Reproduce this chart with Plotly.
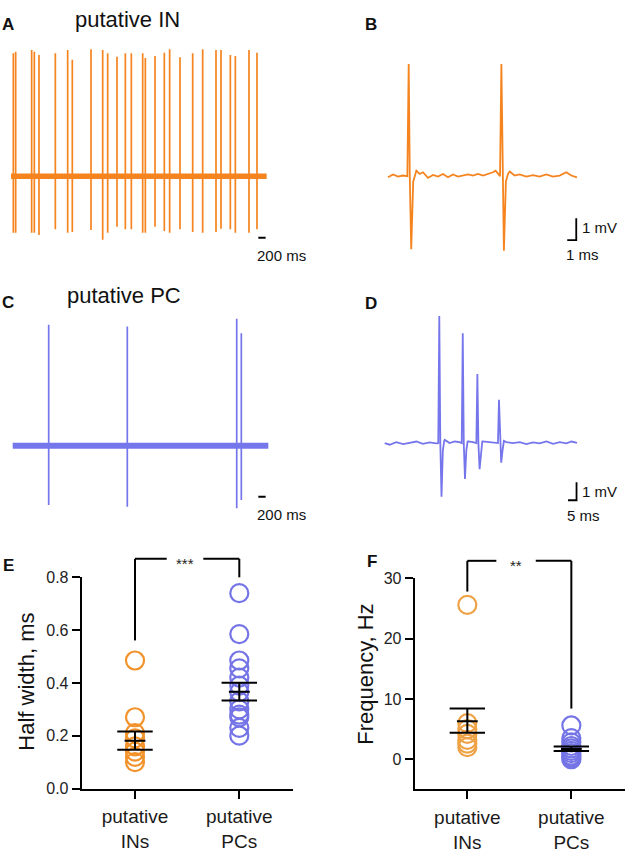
import plotly.graph_objects as go

W, H = 626, 853
FONT = "Arial, Liberation Sans, sans-serif"

# ---------------- data ----------------
# Panel A: putative IN, extracellular spike train (time ms, amplitude mV)
a_duration = 7005
a_spike_t = [64, 128, 566, 639, 767, 1215, 1553, 1680, 2192, 2512, 2649, 2904, 3133, 3297,
             3608, 3681, 3946, 4201, 4347, 4631, 4978, 5252, 5617, 5754, 6010, 6147, 6521, 6740]
a_spike_peak = [5.03, 5.09, 5.16, 5.09, 4.96, 5.03, 5.16, 4.76, 5.19, 5.16, 5.03, 4.89, 5.03, 5.03,
                5.03, 4.83, 4.92, 5.05, 5.19, 4.87, 5.03, 5.19, 5.16, 5.16, 4.96, 4.92, 5.16, 5.05]
a_spike_trough = [-2.31, -2.31, -2.31, -2.31, -2.41, -2.17, -2.31, -2.28, -2.20, -2.60, -2.31, -2.07,
                  -2.17, -2.17, -2.31, -2.31, -2.07, -2.24, -2.31, -2.17, -2.28, -2.31, -2.28, -2.15,
                  -2.17, -2.31, -2.31, -2.17]
a_scalebar_ms = 200

# Panel B: two IN spikes, expanded (time ms, mV)
b_base_t = [0.0, 0.56, 1.11, 1.67, 2.78, 3.15, 3.52, 3.89, 4.44, 5.0, 5.56, 6.11, 6.67, 7.22, 7.78,
            8.33, 8.89, 9.44, 10.0, 10.56, 11.11, 11.67, 11.96, 13.15, 13.52, 14.07, 14.63, 15.37,
            16.11, 16.85, 17.59, 18.33, 19.07, 19.81, 20.37, 21.0]
b_base_v = [-0.05, 0.08, -0.02, 0.03, 0.08, 0.25, 0.10, 0.18, -0.08, 0.06, -0.02, 0.10, -0.05, 0.08,
            -0.02, 0.03, 0.08, 0.03, 0.10, 0.03, 0.10, 0.18, 0.25, 0.10, 0.21, 0.03, 0.08, -0.02,
            0.05, -0.02, 0.08, -0.02, 0.03, 0.18, 0.03, -0.05]
b_spike_t = [2.3, 12.6]
b_spike_peak = [5.14, 5.14]
b_spike_trough = [-3.35, -3.42]
b_wave_dt = [-0.15, 0.0, 0.12, 0.28, 0.5, 0.75]
b_wave_tail = [-0.25, 0.12]
b_scale_ms, b_scale_mv = 1, 1

# Panel C: putative PC spike train
c_duration = 7004
c_spike_t = [986, 3140, 6138, 6264]
c_spike_peak = [4.95, 4.88, 5.20, 4.60]
c_spike_trough = [-2.42, -2.49, -2.56, -2.22]
c_scalebar_ms = 200

# Panel D: PC burst, expanded
d_base_t = [0.0, 2.9, 6.8, 10.8, 14.7, 18.6, 22.5, 26.4, 30.3, 35.3, 38.2, 41.2, 44.1, 49.0, 51.9,
            57.8, 60.8, 63.7, 71.5, 75.4, 79.4, 83.3, 87.2, 91.1, 95.1, 99.0, 102.9, 106.9, 109.8, 113.1]
d_base_v = [0.0, -0.09, 0.055, -0.055, 0.018, 0.09, -0.036, 0.036, -0.018, 0.18, 0.0, 0.09, 0.055,
            0.09, 0.055, 0.09, 0.055, 0.0, 0.055, 0.0, 0.055, -0.055, 0.036, -0.018, 0.09, -0.036,
            0.055, -0.018, 0.09, 0.018]
d_spike_t = [32.1, 45.9, 54.5, 67.2]
d_spike_peak = [7.10, 6.14, 3.86, 2.42]
d_spike_trough = [-3.00, -2.00, -1.46, -1.09]
d_wave_dt = [-0.6, 0.0, 0.6, 1.3, 2.1, 2.9]
d_wave_tail = [-0.4, 0.12]
d_scale_ms, d_scale_mv = 5, 1

# Panel E: half width (ms)
categories = ["putative<br>INs", "putative<br>PCs"]
e_in = [0.485, 0.27, 0.21, 0.19, 0.16, 0.14, 0.12, 0.10]
e_pc = [0.74, 0.585, 0.485, 0.455, 0.42, 0.39, 0.365, 0.33, 0.30, 0.28, 0.27, 0.23, 0.20]
e_mean = [0.181, 0.367]
e_sem_lo = [0.147, 0.333]
e_sem_hi = [0.216, 0.401]
e_ticks = [0.0, 0.2, 0.4, 0.6, 0.8]
e_sig = "***"

# Panel F: frequency (Hz)
f_in = [25.6, 6.0, 5.0, 4.2, 3.2, 2.6, 2.0]
f_pc = [5.6, 3.5, 2.8, 2.2, 1.8, 1.4, 1.0, 0.6, 0.3, 0.0]
f_mean = [6.3, 1.7]
f_sem_lo = [4.4, 1.35]
f_sem_hi = [8.4, 2.1]
f_ticks = [0, 10, 20, 30]
f_sig = "**"

# ---------------- styles ----------------
ORANGE = "#F5841F"
BLUE = "#7676EC"
E_ORANGE = "#F2922A"
F_ORANGE = "#EFA245"
E_BLUE = "#7474E6"


def dx(p0, p1):
    return [p0 / W, p1 / W]


def dy(top, bot):
    return [1 - bot / H, 1 - top / H]


fig = go.Figure()


def build_wave(base_t, base_v, spk_t, peaks, troughs, wdt, tail):
    pts = []
    for t, v in zip(base_t, base_v):
        if all(not (s + wdt[0] - 0.05 <= t <= s + wdt[-1] + 0.05) for s in spk_t):
            pts.append((t, v))
    for s, pk, tr in zip(spk_t, peaks, troughs):
        vals = [0.0, pk, 0.0, tr, tail[0], tail[1]]
        for d, v in zip(wdt, vals):
            pts.append((s + d, v))
    pts.sort()
    return [p[0] for p in pts], [p[1] for p in pts]


def spike_lines(spk_t, peaks, troughs):
    xs, ys = [], []
    for t, pk, tr in zip(spk_t, peaks, troughs):
        xs += [t, t, None]
        ys += [pk, tr, None]
    return xs, ys


# Panel A
fig.add_trace(go.Scatter(x=[0, a_duration], y=[0, 0], mode="lines",
                         line=dict(color=ORANGE, width=5.5), xaxis="x", yaxis="y"))
sx, sy = spike_lines(a_spike_t, a_spike_peak, a_spike_trough)
fig.add_trace(go.Scatter(x=sx, y=sy, mode="lines", line=dict(color=ORANGE, width=1.7),
                         xaxis="x", yaxis="y"))
a_bar_x0 = 6776
fig.add_trace(go.Scatter(x=[a_bar_x0, a_bar_x0 + a_scalebar_ms], y=[-2.52, -2.52], mode="lines",
                         line=dict(color="black", width=2), xaxis="x", yaxis="y"))

# Panel B
bx, by = build_wave(b_base_t, b_base_v, b_spike_t, b_spike_peak, b_spike_trough, b_wave_dt, b_wave_tail)
fig.add_trace(go.Scatter(x=bx, y=by, mode="lines", line=dict(color=ORANGE, width=1.8),
                         xaxis="x2", yaxis="y2"))
b_bar_x1, b_bar_y0 = 20.92, -2.93
fig.add_trace(go.Scatter(x=[b_bar_x1 - b_scale_ms, b_bar_x1, b_bar_x1],
                         y=[b_bar_y0, b_bar_y0, b_bar_y0 + b_scale_mv], mode="lines",
                         line=dict(color="black", width=1.8), xaxis="x2", yaxis="y2"))

# Panel C
fig.add_trace(go.Scatter(x=[0, c_duration], y=[0, 0], mode="lines",
                         line=dict(color=BLUE, width=6), xaxis="x3", yaxis="y3"))
sx, sy = spike_lines(c_spike_t, c_spike_peak, c_spike_trough)
fig.add_trace(go.Scatter(x=sx, y=sy, mode="lines", line=dict(color=BLUE, width=1.7),
                         xaxis="x3", yaxis="y3"))
c_bar_x0 = 6730
fig.add_trace(go.Scatter(x=[c_bar_x0, c_bar_x0 + c_scalebar_ms], y=[-2.09, -2.09], mode="lines",
                         line=dict(color="black", width=2), xaxis="x3", yaxis="y3"))

# Panel D
ddx, ddy = build_wave(d_base_t, d_base_v, d_spike_t, d_spike_peak, d_spike_trough, d_wave_dt, d_wave_tail)
fig.add_trace(go.Scatter(x=ddx, y=ddy, mode="lines", line=dict(color=BLUE, width=1.8),
                         xaxis="x4", yaxis="y4"))
d_bar_x1, d_bar_y0 = 112.8, -3.19
fig.add_trace(go.Scatter(x=[d_bar_x1 - d_scale_ms, d_bar_x1, d_bar_x1],
                         y=[d_bar_y0, d_bar_y0, d_bar_y0 + d_scale_mv], mode="lines",
                         line=dict(color="black", width=1.8), xaxis="x4", yaxis="y4"))


# Panels E & F scatter + mean/SEM
def group_traces(vals_in, vals_pc, mean, lo, hi, col_in, col_pc, xa, ya):
    for i, (vals, col) in enumerate([(vals_in, col_in), (vals_pc, col_pc)]):
        fig.add_trace(go.Scatter(x=[i] * len(vals), y=vals, mode="markers", cliponaxis=False,
                                 marker=dict(symbol="circle-open", size=18, color=col,
                                             line=dict(width=2.2, color=col)),
                                 xaxis=xa, yaxis=ya))
    xs, ys = [], []
    for i in range(2):
        xs += [i - 0.17, i + 0.17, None, i - 0.17, i + 0.17, None, i - 0.1, i + 0.1, None, i, i, None]
        ys += [lo[i], lo[i], None, hi[i], hi[i], None, mean[i], mean[i], None, lo[i], hi[i], None]
    fig.add_trace(go.Scatter(x=xs, y=ys, mode="lines", line=dict(color="black", width=2),
                             xaxis=xa, yaxis=ya, cliponaxis=False))


group_traces(e_in, e_pc, e_mean, e_sem_lo, e_sem_hi, E_ORANGE, E_BLUE, "x5", "y5")
group_traces(f_in, f_pc, f_mean, f_sem_lo, f_sem_hi, F_ORANGE, E_BLUE, "x6", "y6")

hidden = dict(visible=False, fixedrange=True)

E_XR, E_XD = [-0.511, 1.512], [81.7, 292.7]
E_YR, E_YD = [0, 0.8], [582.3, 798.3]
F_XR, F_XD = [-0.506, 1.513], [414.7, 624.7]
F_YR, F_YD = [-5, 30], [583.3, 799.2]

axis_common = dict(showline=True, linewidth=2, linecolor="black", ticks="outside", ticklen=8,
                   tickwidth=2, tickcolor="black", showgrid=False, zeroline=False,
                   tickfont=dict(family=FONT, size=16, color="#222"))
xtickfont = dict(family=FONT, size=19, color="#1a1a1a")

fig.update_layout(
    width=W, height=H, margin=dict(l=0, r=0, t=0, b=0),
    paper_bgcolor="white", plot_bgcolor="white", showlegend=False,
    font=dict(family=FONT, color="#1a1a1a"),
    xaxis=dict(domain=dx(0, 290), range=[-301.4, 7644.6], anchor="y", **hidden),
    yaxis=dict(domain=dy(30, 265), range=[-3.72, 5.68], anchor="x", **hidden),
    xaxis2=dict(domain=dx(380, 600), range=[-0.89, 23.56], anchor="y2", **hidden),
    yaxis2=dict(domain=dy(40, 265), range=[-4.17, 5.92], anchor="x2", **hidden),
    xaxis3=dict(domain=dx(0, 290), range=[-348, 7598], anchor="y3", **hidden),
    yaxis3=dict(domain=dy(300, 530), range=[-3.29, 5.91], anchor="x3", **hidden),
    xaxis4=dict(domain=dx(380, 600), range=[-2.76, 126.6], anchor="y4", **hidden),
    yaxis4=dict(domain=dy(300, 530), range=[-4.64, 7.92], anchor="x4", **hidden),
    xaxis5=dict(domain=dx(*E_XD), range=E_XR, anchor="y5", tickvals=[0, 1], ticktext=categories,
                ticklabelstandoff=2, **{**axis_common, "tickfont": xtickfont}),
    yaxis5=dict(domain=dy(*E_YD), range=E_YR, anchor="x5", tickvals=e_ticks,
                ticktext=[f"{v:.1f}" for v in e_ticks], **axis_common),
    xaxis6=dict(domain=dx(*F_XD), range=F_XR, anchor="y6", tickvals=[0, 1], ticktext=categories,
                ticklabelstandoff=2, **{**axis_common, "tickfont": xtickfont}),
    yaxis6=dict(domain=dy(*F_YD), range=F_YR, anchor="x6", tickvals=f_ticks,
                ticktext=[str(v) for v in f_ticks], **axis_common),
)


def to_px(v, r, d):
    return d[0] + (v - r[0]) / (r[1] - r[0]) * (d[1] - d[0])


def to_py(v, r, d):
    return d[1] - (v - r[0]) / (r[1] - r[0]) * (d[1] - d[0])


def bracket(xr, xd, yr, yd, y_top, y_left, y_right, gap0, gap1, text, fs):
    xl, xrr = to_px(0, xr, xd), to_px(1, xr, xd)
    yt = to_py(y_top, yr, yd)
    g0, g1 = to_px(gap0, xr, xd), to_px(gap1, xr, xd)
    segs = [(xl, to_py(y_left, yr, yd), xl, yt), (xl, yt, g0, yt),
            (g1, yt, xrr, yt), (xrr, yt, xrr, to_py(y_right, yr, yd))]
    for x0, y0, x1, y1 in segs:
        fig.add_shape(type="line", xref="paper", yref="paper", x0=x0 / W, x1=x1 / W,
                      y0=1 - y0 / H, y1=1 - y1 / H, line=dict(color="black", width=2))
    fig.add_annotation(x=((g0 + g1) / 2) / W, y=1 - (yt + 5) / H, xref="paper", yref="paper",
                       text=text, showarrow=False, font=dict(family=FONT, size=fs, color="#222"),
                       xanchor="center", yanchor="middle")


bracket(E_XR, E_XD, E_YR, E_YD, 0.87, 0.561, 0.8, 0.304, 0.655, e_sig, 15)
bracket(F_XR, F_XD, F_YR, F_YD, 32.9, 27.8, 8.4, 0.279, 0.658, f_sig, 15)


def ann(px, py, text, size, bold=False, xanchor="center", angle=0):
    fig.add_annotation(x=px / W, y=1 - py / H, xref="paper", yref="paper",
                       text=f"<b>{text}</b>" if bold else text, showarrow=False,
                       font=dict(family=FONT, size=size, color="#111"),
                       xanchor=xanchor, yanchor="middle", textangle=angle)


# panel letters
ann(8, 17, "A", 17, bold=True)
ann(371, 17, "B", 17, bold=True)
ann(8, 301, "C", 17, bold=True)
ann(371, 302, "D", 17, bold=True)
ann(8, 570, "E", 17, bold=True)
ann(372, 566, "F", 17, bold=True)

# titles
ann(127.5, 12, "putative IN", 22)
ann(124, 294, "putative PC", 22)

# scale bar labels
ann(281, 253, f"{a_scalebar_ms} ms", 15)
ann(281, 518, f"{c_scalebar_ms} ms", 15)
ann(580, 225, f"{b_scale_mv} mV", 15, xanchor="left")
ann(582, 252, f"{b_scale_ms} ms", 15)
ann(580, 495, f"{d_scale_mv} mV", 15, xanchor="left")
ann(583, 519, f"{d_scale_ms} ms", 15)

# y titles
ann(27, 689, "Half width, ms", 22, angle=-90)
ann(366, 682, "Frequency, Hz", 22, angle=-90)

fig.write_html("out.html", config={"displayModeBar": False},
               post_script="document.body.style.margin='0px';document.body.style.overflow='hidden';")
